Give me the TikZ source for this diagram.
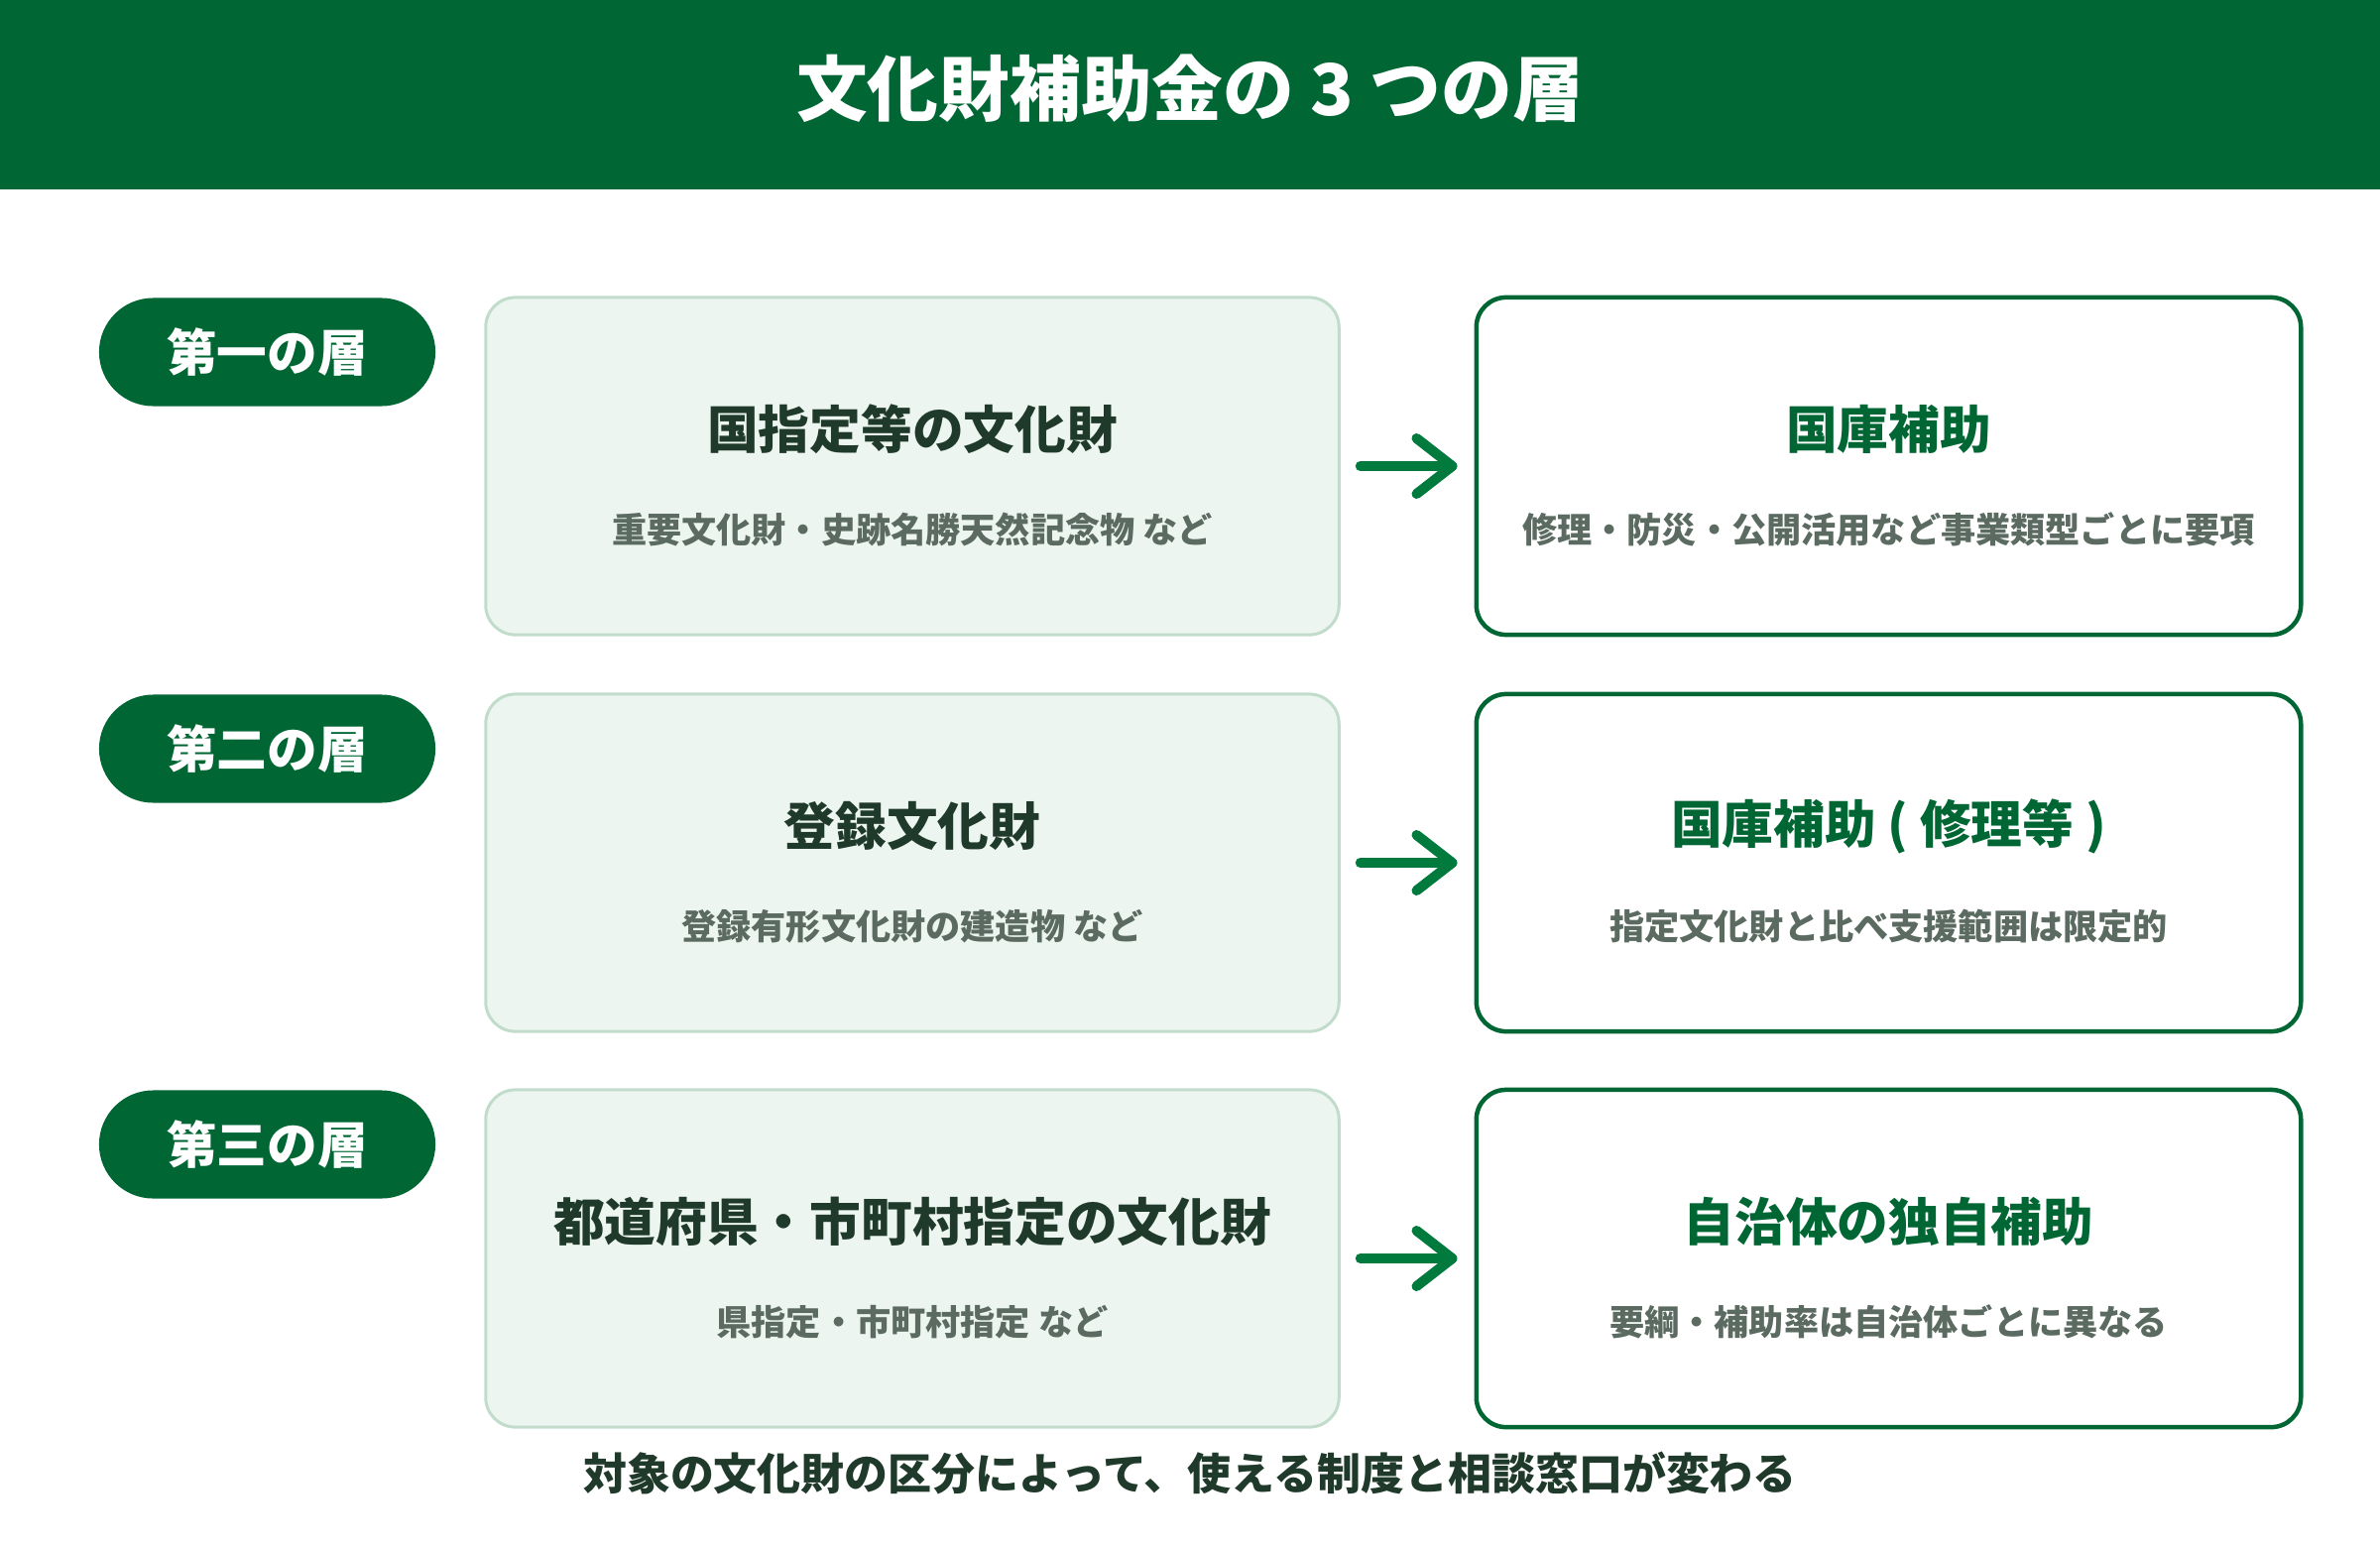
\documentclass[tikz,border=0pt]{standalone}
\usepackage{fontspec}
\setmainfont{Noto Sans CJK JP}
\usetikzlibrary{arrows.meta}
\definecolor{hdr}{HTML}{006633}
\definecolor{arrowc}{HTML}{007A3D}
\definecolor{lfill}{HTML}{EDF5F0}
\definecolor{lborder}{HTML}{C2DCCC}
\definecolor{darktxt}{HTML}{1F3A2A}
\definecolor{graytxt}{HTML}{5B6B62}
\tikzset{
  pill/.style={fill=hdr, text=white, rounded corners=0.545cm, minimum width=3.39cm, minimum height=1.09cm, inner sep=0pt, font=\fontsize{14.4}{16}\selectfont\bfseries},
  catbox/.style={fill=lfill, draw=lborder, line width=0.03cm, rounded corners=0.3cm, minimum width=8.6cm, minimum height=3.4cm},
  aidbox/.style={fill=white, draw=hdr, line width=0.045cm, rounded corners=0.3cm, minimum width=8.31cm, minimum height=3.4cm},
  cattitle/.style={text=darktxt, inner sep=0pt, font=\fontsize{14.7}{16}\selectfont\bfseries},
  aidtitle/.style={text=hdr, inner sep=0pt, font=\fontsize{14.7}{16}\selectfont\bfseries},
  subtxt/.style={text=graytxt, inner sep=0pt, font=\fontsize{10}{12}\selectfont\bfseries},
  arr/.style={draw=arrowc, line width=0.1cm, line cap=round, shorten <=0.2cm, shorten >=0.17cm,
    -{Straight Barb[length=0.36cm, width=0.56cm, line cap=round, line join=round]}},
}
\begin{document}
\begin{tikzpicture}[x=0.01cm, y=-0.01cm]
\useasboundingbox (0,0) rectangle (2400,1560);
\fill[hdr] (0,0) rectangle (2400,191);
\node[text=white, inner sep=0pt, font=\fontsize{20.4}{24}\selectfont\bfseries] (title) at (1200,89) {文化財補助金の 3 つの層};

% row 1
\node[pill] (p1) at (269.5,355) {第一の層};
\node[catbox] (c1) at (920,470) {};
\node[aidbox] (a1) at (1904.5,470) {};
\node[cattitle] (c1t) at (920,433) {国指定等の文化財};
\node[subtxt] (c1s) at (920,534) {重要文化財・史跡名勝天然記念物 など};
\node[aidtitle] (a1t) at (1904.5,433) {国庫補助};
\node[subtxt] (a1s) at (1904.5,534) {修理・防災・公開活用など事業類型ごとに要項};
\draw[arr] (c1.east) -- (a1.west);

% row 2
\node[pill] (p2) at (269.5,755) {第二の層};
\node[catbox] (c2) at (920,870) {};
\node[aidbox] (a2) at (1904.5,870) {};
\node[cattitle] (c2t) at (920,833) {登録文化財};
\node[subtxt] (c2s) at (920,934) {登録有形文化財の建造物 など};
\node[aidtitle] (a2t) at (1904.5,833) {国庫補助 ( 修理等 )};
\node[subtxt] (a2s) at (1904.5,934) {指定文化財と比べ支援範囲は限定的};
\draw[arr] (c2.east) -- (a2.west);

% row 3
\node[pill] (p3) at (269.5,1154) {第三の層};
\node[catbox] (c3) at (920,1269) {};
\node[aidbox] (a3) at (1904.5,1269) {};
\node[cattitle] (c3t) at (920,1232) {都道府県・市町村指定の文化財};
\node[subtxt] (c3s) at (920,1333) {県指定・市町村指定 など};
\node[aidtitle] (a3t) at (1904.5,1232) {自治体の独自補助};
\node[subtxt] (a3s) at (1904.5,1333) {要綱・補助率は自治体ごとに異なる};
\draw[arr] (c3.east) -- (a3.west);

\node[text=darktxt, inner sep=0pt, font=\fontsize{12.5}{15}\selectfont\bfseries] (foot) at (1200,1485) {対象の文化財の区分によって、使える制度と相談窓口が変わる};
\end{tikzpicture}
\end{document}
